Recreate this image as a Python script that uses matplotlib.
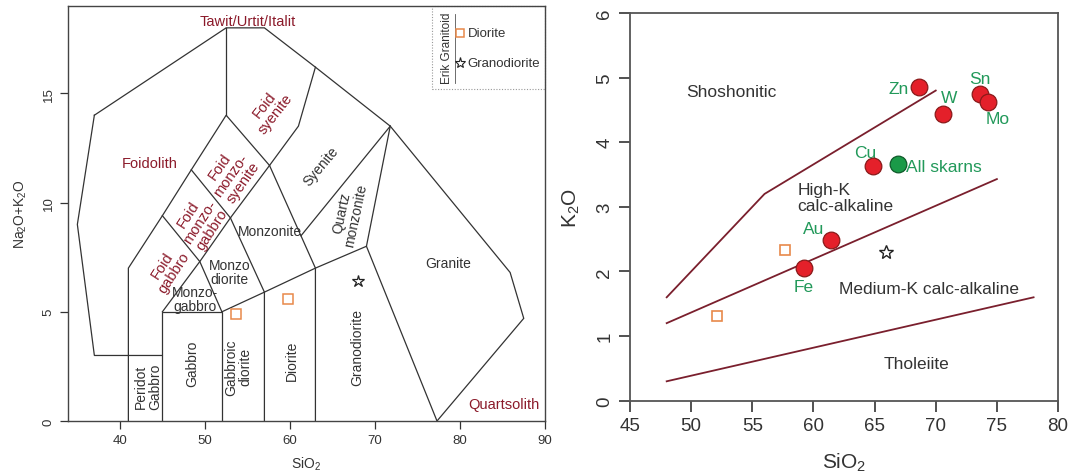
import matplotlib
matplotlib.use('Agg')
import matplotlib.pyplot as plt
from matplotlib.patches import Rectangle

plt.rcParams['font.family'] = ['Liberation Sans', 'DejaVu Sans']
plt.rcParams['mathtext.fontset'] = 'custom'
plt.rcParams['mathtext.rm'] = 'Liberation Sans'
plt.rcParams['mathtext.it'] = 'Liberation Sans:italic'

# --- TAS (plutonic) field boundaries, polylines of (SiO2, Na2O+K2O) ---
tas_lines = [
    [(37, 14), (52.5, 18), (57, 18), (63, 16.2), (71.8, 13.5), (85.9, 6.8), (87.5, 4.7), (77.3, 0)],
    [(37, 14), (35, 9), (37, 3), (45, 3)],
    [(41, 0), (41, 7), (45, 9.4), (48.4, 11.5), (52.5, 14), (57.6, 11.7), (63, 7), (63, 0)],
    [(52.5, 14), (52.5, 18)],
    [(45, 0), (45, 5), (52, 5), (52, 0)],
    [(52, 5), (57, 5.9), (63, 7), (69, 8), (77.3, 0)],
    [(57, 0), (57, 5.9), (53, 9.3), (57.6, 11.7)],
    [(45, 5), (49.4, 7.3), (53, 9.3)],
    [(45, 9.4), (49.4, 7.3), (52, 5)],
    [(48.4, 11.5), (53, 9.3)],
    [(57.6, 11.7), (61, 13.5), (63, 16.2)],
    [(61.3, 8.48), (71.8, 13.5)],
    [(69, 8), (71.8, 13.5)],
]

# field names: (x, y, text, rotation, is_foid)
tas_names = [
    (55.0, 18.3, 'Tawit/Urtit/Italit', 0, True),
    (43.5, 11.8, 'Foidolith', 0, True),
    (57.6, 14.3, 'Foid\nsyenite', 52, True),
    (53.1, 11.3, 'Foid\nmonzo-\nsyenite', 55, True),
    (49.4, 9.15, 'Foid\nmonzo-\ngabbro', 57, True),
    (45.7, 7.0, 'Foid\ngabbro', 57, True),
    (85.2, 0.8, 'Quartsolith', 0, True),
    (57.6, 8.7, 'Monzonite', 0, False),
    (52.9, 6.8, 'Monzo\ndiorite', 0, False),
    (48.8, 5.6, 'Monzo-\ngabbro', 0, False),
    (63.7, 11.7, 'Syenite', 50, False),
    (66.9, 9.5, 'Quartz\nmonzonite', 78, False),
    (78.6, 7.25, 'Granite', 0, False),
    (67.9, 3.4, 'Granodiorite', 90, False),
    (60.2, 2.8, 'Diorite', 90, False),
    (53.9, 2.5, 'Gabbroic\ndiorite', 90, False),
    (48.55, 2.65, 'Gabbro', 90, False),
    (43.3, 1.6, 'Peridot\nGabbro', 90, False),
]

# Erik granitoid samples
dio_sio2_tas = [53.6, 59.8]
dio_alk = [4.88, 5.57]
gd_sio2_tas = [68.0]
gd_alk = [6.41]

dio_sio2_k = [52.1, 57.7]
dio_k2o = [1.31, 2.33]
gd_sio2_k = [65.9]
gd_k2o = [2.30]

# --- K2O vs SiO2 series boundaries ---
k_lines = [
    [(48, 1.6), (56, 3.2), (70, 4.8)],
    [(48, 1.2), (75, 3.43)],
    [(48, 0.3), (78, 1.6)],
]
series_names = [
    (49.6, 4.79, 'Shoshonitic', 'left'),
    (58.7, 3.14, 'High-K\ncalc-alkaline', 'left'),
    (62.1, 1.74, 'Medium-K calc-alkaline', 'left'),
    (68.4, 0.58, 'Tholeiite', 'center'),
]

# skarn deposit averages
deposits = ['Fe', 'Au', 'Cu', 'Zn', 'W', 'Sn', 'Mo']
dep_sio2 = [59.2, 61.4, 64.9, 68.6, 70.6, 73.6, 74.3]
dep_k2o = [2.05, 2.49, 3.63, 4.86, 4.44, 4.75, 4.62]
label_offsets = {'Fe': (0, -13, 'center'), 'Au': (-12, 8, 'center'), 'Cu': (-6, 10, 'center'),
                 'Zn': (-7, -1, 'right'), 'W': (4, 12, 'center'), 'Sn': (0, 11, 'center'),
                 'Mo': (7, -12, 'center')}
all_sio2 = [66.9]
all_k2o = [3.67]

foid_red = '#8b1a2a'
line_gray = '#333333'
sq_orange = '#e8894a'
txt_green = '#22995a'
bound_red = '#7a1f2d'

fig = plt.figure(figsize=(10.76, 4.77), dpi=100)

# ---------------- left: TAS ----------------
ax1 = fig.add_axes([0.0632, 0.1153, 0.4433, 0.8700])
for pl in tas_lines:
    xs = [p[0] for p in pl]
    ys = [p[1] for p in pl]
    ax1.plot(xs, ys, color=line_gray, lw=0.9, solid_joinstyle='miter')
for x, y, t, rot, foid in tas_names:
    ax1.text(x, y, t, rotation=rot, rotation_mode='anchor', ha='center', va='center',
             multialignment='center', fontsize=10.5 if foid else 10,
             color=foid_red if foid else line_gray, linespacing=1.0)
ax1.plot(dio_sio2_tas, dio_alk, 's', ms=6.5, mfc='none', mec=sq_orange, mew=1.1)
ax1.plot(gd_sio2_tas, gd_alk, '*', ms=9, mfc='none', mec='#222222', mew=0.9)

# legend box
ax1.add_patch(Rectangle((0.7625, 0.80), 0.2375, 0.20, transform=ax1.transAxes, fill=False,
                        ec='#999999', lw=0.8, ls=(0, (1, 1.5)), clip_on=False))
ax1.text(0.795, 0.90, 'Erik Granitoid', transform=ax1.transAxes, rotation=90,
         ha='center', va='center', fontsize=8.5, color='#333333')
ax1.plot([0.812, 0.812], [0.815, 0.98], transform=ax1.transAxes, color='#555555', lw=0.6)
ax1.plot([0.822], [0.934], 's', ms=6, mfc='none', mec=sq_orange, mew=1.1, transform=ax1.transAxes)
ax1.plot([0.822], [0.862], '*', ms=8, mfc='none', mec='#222222', mew=0.8, transform=ax1.transAxes)
ax1.text(0.838, 0.934, 'Diorite', transform=ax1.transAxes, va='center', fontsize=9.5, color='#333333')
ax1.text(0.838, 0.862, 'Granodiorite', transform=ax1.transAxes, va='center', fontsize=9.5, color='#333333')

ax1.set_xlim(33.9, 90)
ax1.set_ylim(0, 19)
ax1.set_xticks([40, 50, 60, 70, 80, 90])
ax1.set_yticks([0, 5, 10, 15])
ax1.tick_params(direction='out', length=6, width=0.9, labelsize=9.5, colors='#333333')
ax1.tick_params(axis='y', labelrotation=90)
for lab in ax1.get_yticklabels():
    lab.set_va('center')
for sp in ax1.spines.values():
    sp.set_color('#444444')
    sp.set_linewidth(1.0)
ax1.set_xlabel(r'SiO$_2$', fontsize=10, color='#333333', labelpad=6)
ax1.set_ylabel(r'Na$_2$O+K$_2$O', fontsize=10, color='#333333', labelpad=10)

# ---------------- right: K2O vs SiO2 ----------------
ax2 = fig.add_axes([0.5855, 0.1579, 0.3978, 0.8127])
for pl in k_lines:
    ax2.plot([p[0] for p in pl], [p[1] for p in pl], color=bound_red, lw=1.3)
for x, y, t, ha in series_names:
    ax2.text(x, y, t, ha=ha, va='center', fontsize=12.5, color='#333333', linespacing=1.1)

ax2.plot(dio_sio2_k, dio_k2o, 's', ms=6.5, mfc='none', mec=sq_orange, mew=1.2)
ax2.plot(gd_sio2_k, gd_k2o, '*', ms=10, mfc='none', mec='#222222', mew=1.0)
ax2.plot(dep_sio2, dep_k2o, 'o', ms=12, mfc='#e4202a', mec='#8a1a1a', mew=0.9, zorder=5)
ax2.plot(all_sio2, all_k2o, 'o', ms=12, mfc='#1a9a48', mec='#0f5a2a', mew=0.9, zorder=5)
for name, x, y in zip(deposits, dep_sio2, dep_k2o):
    dx, dy, ha = label_offsets[name]
    ax2.annotate(name, (x, y), xytext=(dx, dy), textcoords='offset points',
                 ha=ha, va='center', fontsize=12.5, color=txt_green)
ax2.annotate('All skarns', (all_sio2[0], all_k2o[0]), xytext=(6, -2), textcoords='offset points',
             ha='left', va='center', fontsize=12.5, color=txt_green)

ax2.set_xlim(45, 80)
ax2.set_ylim(0, 6)
ax2.set_xticks(range(45, 81, 5))
ax2.set_yticks(range(0, 7))
ax2.tick_params(direction='out', length=8, width=1.2, labelsize=13.5, colors='#333333', pad=4)
ax2.tick_params(axis='y', labelrotation=90)
for lab in ax2.get_yticklabels():
    lab.set_va('center')
for sp in ax2.spines.values():
    sp.set_color('#555555')
    sp.set_linewidth(1.3)
ax2.set_xlabel(r'SiO$_2$', fontsize=15, color='#333333', labelpad=12)
ax2.set_ylabel(r'K$_2$O', fontsize=15, color='#333333', labelpad=10)

fig.savefig('out.png', dpi=100)
